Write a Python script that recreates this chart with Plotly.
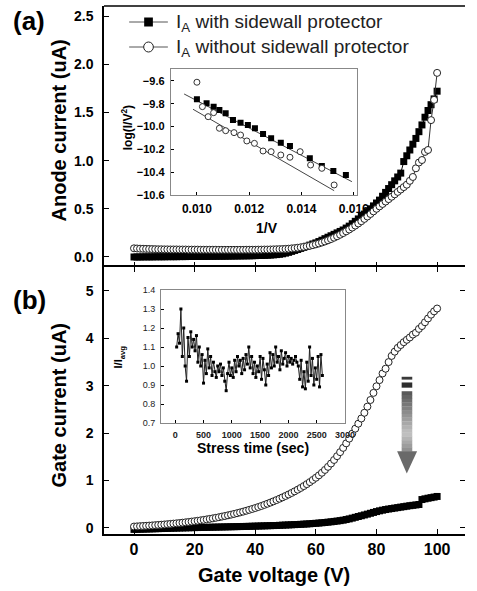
import plotly.graph_objects as go

# ---------------- data ----------------
gate_voltage = list(range(0, 101))  # V grid, 1 V step

anode_with = [
    0.000, 0.000, 0.000, 0.001, 0.001, 0.001, 0.001, 0.002, 0.002, 0.002,
    0.002, 0.003, 0.003, 0.003, 0.003, 0.004, 0.004, 0.004, 0.005, 0.005,
    0.005, 0.005, 0.006, 0.006, 0.006, 0.007, 0.007, 0.007, 0.008, 0.008,
    0.008, 0.009, 0.009, 0.010, 0.010, 0.011, 0.011, 0.012, 0.012, 0.013,
    0.014, 0.015, 0.016, 0.017, 0.018, 0.020, 0.022, 0.025, 0.028, 0.033,
    0.040, 0.048, 0.058, 0.068, 0.078, 0.089, 0.100, 0.111, 0.123, 0.135,
    0.146, 0.160, 0.174, 0.190, 0.205, 0.220, 0.235, 0.250, 0.265, 0.280,
    0.300, 0.320, 0.345, 0.370, 0.395, 0.420, 0.445, 0.470, 0.500, 0.530,
    0.560, 0.590, 0.630, 0.670, 0.710, 0.750, 0.790, 0.830, 0.870, 0.990,
    1.050, 1.110, 1.170, 1.230, 1.300, 1.370, 1.450, 1.520, 1.580, 1.640, 1.720,
]
anode_without = [
    0.090, 0.088, 0.086, 0.085, 0.084, 0.083, 0.082, 0.081, 0.080, 0.080,
    0.079, 0.079, 0.078, 0.078, 0.078, 0.077, 0.077, 0.077, 0.076, 0.076,
    0.076, 0.076, 0.075, 0.075, 0.075, 0.075, 0.075, 0.075, 0.074, 0.074,
    0.074, 0.074, 0.074, 0.074, 0.074, 0.074, 0.074, 0.075, 0.075, 0.075,
    0.075, 0.076, 0.076, 0.077, 0.077, 0.078, 0.079, 0.080, 0.081, 0.082,
    0.084, 0.086, 0.089, 0.092, 0.096, 0.100, 0.105, 0.110, 0.116, 0.123,
    0.131, 0.140, 0.150, 0.161, 0.173, 0.186, 0.200, 0.215, 0.231, 0.248,
    0.266, 0.285, 0.305, 0.326, 0.348, 0.371, 0.395, 0.420, 0.446, 0.473,
    0.500, 0.525, 0.550, 0.575, 0.600, 0.625, 0.650, 0.675, 0.700, 0.725,
    0.750, 0.790, 0.830, 0.920, 0.980, 1.006, 1.090, 1.110, 1.420, 1.630, 1.910,
]
gate_without = [
    0.030, 0.034, 0.038, 0.042, 0.046, 0.050, 0.054, 0.059, 0.064, 0.069,
    0.074, 0.080, 0.086, 0.092, 0.098, 0.105, 0.112, 0.119, 0.127, 0.135,
    0.143, 0.152, 0.161, 0.171, 0.181, 0.192, 0.203, 0.215, 0.227, 0.240,
    0.253, 0.267, 0.281, 0.296, 0.312, 0.328, 0.345, 0.363, 0.382, 0.401,
    0.421, 0.442, 0.464, 0.487, 0.511, 0.536, 0.562, 0.589, 0.617, 0.646,
    0.676, 0.707, 0.739, 0.773, 0.808, 0.845, 0.884, 0.925, 0.968, 1.013,
    1.060, 1.110, 1.165, 1.225, 1.290, 1.360, 1.435, 1.515, 1.600, 1.690,
    1.785, 1.885, 1.990, 2.095, 2.200, 2.310, 2.430, 2.560, 2.700, 2.850,
    2.990, 3.120, 3.260, 3.360, 3.500, 3.630, 3.720, 3.800, 3.860, 3.920,
    3.970, 4.020, 4.080, 4.120, 4.200, 4.260, 4.340, 4.420, 4.500, 4.570, 4.630,
]
gate_with = [
    -0.030, -0.028, -0.026, -0.024, -0.022, -0.020, -0.018, -0.016, -0.014, -0.012,
    -0.010, -0.008, -0.006, -0.004, -0.002, 0.000, 0.002, 0.003, 0.005, 0.006,
    0.008, 0.009, 0.011, 0.012, 0.014, 0.015, 0.017, 0.018, 0.020, 0.021,
    0.023, 0.024, 0.026, 0.027, 0.029, 0.030, 0.032, 0.033, 0.035, 0.037,
    0.039, 0.041, 0.043, 0.045, 0.047, 0.049, 0.051, 0.053, 0.056, 0.059,
    0.062, 0.065, 0.068, 0.071, 0.074, 0.077, 0.081, 0.085, 0.089, 0.094,
    0.099, 0.104, 0.110, 0.116, 0.123, 0.130, 0.138, 0.146, 0.155, 0.165,
    0.178, 0.192, 0.208, 0.225, 0.242, 0.258, 0.275, 0.292, 0.310, 0.328,
    0.346, 0.362, 0.376, 0.389, 0.400, 0.410, 0.420, 0.430, 0.440, 0.450,
    0.460, 0.470, 0.478, 0.486, 0.495, 0.600, 0.615, 0.628, 0.640, 0.652, 0.665,
]

# inset (a): Fowler-Nordheim plot
fn_x_with = [0.01000, 0.01037, 0.01064, 0.01086, 0.01110, 0.01138, 0.01167, 0.01195,
             0.01222, 0.01253, 0.01284, 0.01321, 0.01356, 0.01432, 0.01478, 0.01522, 0.01570]
fn_y_with = [-9.760, -9.796, -9.825, -9.854, -9.883, -9.942, -9.966, -9.986,
             -10.015, -10.065, -10.103, -10.141, -10.170, -10.278, -10.346, -10.389, -10.425]
fn_x_without = [0.01000, 0.01021, 0.01043, 0.01064, 0.01086, 0.01110, 0.01142, 0.01167, 0.01191,
                0.01220, 0.01253, 0.01284, 0.01321, 0.01356, 0.01395, 0.01435, 0.01478, 0.01525]
fn_y_without = [-9.611, -9.825, -9.913, -9.878, -10.015, -10.036, -10.053, -10.074, -10.126,
                -10.147, -10.214, -10.220, -10.249, -10.269, -10.220, -10.337, -10.366, -10.512]
fit_x_with = [0.00951, 0.01593]
fit_y_with = [-9.714, -10.483]
fit_x_without = [0.00985, 0.01525]
fit_y_without = [-9.848, -10.562]

# inset (b): normalised gate current vs stress time
stress_time = list(range(25, 2601, 25))
norm_current = [
    1.10, 1.17, 1.12, 1.30, 1.05, 1.20, 1.00, 0.92, 1.15, 1.05,
    1.18, 1.10, 1.14, 1.08, 1.16, 1.02, 1.10, 1.00, 1.06, 0.91,
    1.03, 0.96, 1.09, 0.99, 1.05, 0.95, 1.02, 0.97, 0.94, 1.00,
    0.97, 1.01, 0.95, 0.99, 0.92, 0.87, 0.96, 1.02, 0.95, 0.99,
    0.94, 1.03, 0.97, 1.05, 1.00, 1.03, 0.96, 1.04, 0.98, 1.06,
    1.01, 1.10, 0.99, 1.05, 0.96, 1.02, 0.94, 1.00, 0.97, 1.05,
    0.93, 1.04, 0.98, 0.90, 1.01, 0.95, 1.07, 0.99, 1.06, 1.00,
    1.10, 1.02, 1.05, 0.98, 1.08, 1.01, 1.04, 1.07, 1.00, 1.05,
    1.02, 1.04, 1.01, 1.03, 1.05, 1.02, 1.00, 0.93, 1.03, 0.89,
    0.97, 0.88, 1.02, 0.92, 1.10, 0.95, 1.04, 0.90, 0.99, 0.93,
    1.05, 0.89, 1.06, 0.95,
]

legend_labels = ["I<sub>A</sub> with sidewall protector",
                 "I<sub>A</sub> without sidewall protector"]

main_x_ticks = [0, 20, 40, 60, 80, 100]
anode_ticks = [0.0, 0.5, 1.0, 1.5, 2.0, 2.5]
gate_ticks = [0, 1, 2, 3, 4, 5]
fn_x_ticks = [0.010, 0.012, 0.014, 0.016]
fn_y_ticks = [-10.6, -10.4, -10.2, -10.0, -9.8, -9.6]
stress_ticks = [0, 500, 1000, 1500, 2000, 2500, 3000]
norm_ticks = [0.7, 0.8, 0.9, 1.0, 1.1, 1.2, 1.3, 1.4]

# ---------------- figure ----------------
FONT = "Liberation Sans, Arial, sans-serif"
BOLD = dict(family=FONT, color="black", weight="bold")

W, H = 477, 591
ML, MR, MT, MB = 104, 0, 6, 57
PW, PH = W - ML - MR, H - MT - MB


def PX(px):
    return (px - ML) / PW


def PY(py):
    return (H - MB - py) / PH


fig = go.Figure()

# panel (a)
fig.add_trace(go.Scatter(
    x=gate_voltage, y=anode_with, xaxis="x2", yaxis="y2", showlegend=False,
    mode="lines+markers", name=legend_labels[0],
    line=dict(color="black", width=1),
    marker=dict(symbol="square", size=7, color="black", line=dict(width=0)),
))
fig.add_trace(go.Scatter(
    x=gate_voltage, y=anode_without, xaxis="x2", yaxis="y2", showlegend=False,
    mode="lines+markers", name=legend_labels[1],
    line=dict(color="#333", width=1),
    marker=dict(symbol="circle", size=7, color="white", line=dict(color="#222", width=1)),
))
# panel (b)
fig.add_trace(go.Scatter(
    x=gate_voltage, y=gate_with, xaxis="x", yaxis="y", showlegend=False,
    mode="lines+markers", line=dict(color="black", width=1),
    marker=dict(symbol="square", size=7, color="black", line=dict(width=0)),
))
fig.add_trace(go.Scatter(
    x=gate_voltage, y=gate_without, xaxis="x", yaxis="y", showlegend=False,
    mode="lines+markers", line=dict(color="#333", width=1),
    marker=dict(symbol="circle", size=7, color="white", line=dict(color="#222", width=1)),
))
# invisible trace to carry the right-hand mirror ticks of panel (b)
fig.add_trace(go.Scatter(
    x=gate_voltage, y=gate_without, xaxis="x", yaxis="y5", showlegend=False,
    mode="markers", marker=dict(opacity=0), hoverinfo="skip",
))

# inset (a)
fig.add_trace(go.Scatter(
    x=fit_x_with, y=fit_y_with, xaxis="x3", yaxis="y3", showlegend=False,
    mode="lines", line=dict(color="#444", width=1),
))
fig.add_trace(go.Scatter(
    x=fit_x_without, y=fit_y_without, xaxis="x3", yaxis="y3", showlegend=False,
    mode="lines", line=dict(color="#444", width=1),
))
fig.add_trace(go.Scatter(
    x=fn_x_with, y=fn_y_with, xaxis="x3", yaxis="y3", showlegend=False,
    mode="markers", marker=dict(symbol="square", size=6, color="black"),
))
fig.add_trace(go.Scatter(
    x=fn_x_without, y=fn_y_without, xaxis="x3", yaxis="y3", showlegend=False,
    mode="markers", marker=dict(symbol="circle", size=6, color="white", line=dict(color="#333", width=1)),
))

# inset (b)
fig.add_trace(go.Scatter(
    x=stress_time, y=norm_current, xaxis="x4", yaxis="y4", showlegend=False,
    mode="lines+markers", line=dict(color="#222", width=1),
    marker=dict(symbol="square", size=3, color="black"),
))

# ---------------- shapes: frame, arrow, legend keys ----------------
shapes = []

# top border of panel (a)
shapes.append(dict(type="line", xref="paper", yref="paper", x0=0, x1=1, y0=1, y1=1,
                   line=dict(color="black", width=1.5), layer="above"))


def rect(y0, y1, x0, x1, color):
    shapes.append(dict(type="rect", xref="x", yref="y", x0=x0, x1=x1, y0=y0, y1=y1,
                       fillcolor=color, line=dict(width=0), layer="above"))


rect(3.13, 3.19, 88.3, 91.8, "#3a3a3a")
rect(2.96, 3.07, 88.3, 91.8, "#2e2e2e")
n_seg = 16
top, bot = 2.88, 1.61
for i in range(n_seg):
    t = (i + 0.5) / n_seg
    if t < 0.7:
        g = int(85 + (195 - 85) * t / 0.7)
    else:
        g = int(195 - (195 - 140) * (t - 0.7) / 0.3)
    y0 = top - (top - bot) * i / n_seg
    y1 = top - (top - bot) * (i + 1) / n_seg
    rect(y1, y0 + 0.005, 88.3, 91.8, f"rgb({g},{g},{g})")
shapes.append(dict(type="path", xref="x", yref="y",
                   path="M 86.8 1.62 L 93.4 1.62 L 90.0 1.15 Z",
                   fillcolor="#6a6a6a", line=dict(width=0), layer="above"))

# legend keys (pixel positions converted to paper)
for row_y in (22, 47):
    shapes.append(dict(type="line", xref="paper", yref="paper",
                       x0=PX(130), x1=PX(170), y0=PY(row_y), y1=PY(row_y),
                       line=dict(color="#555", width=1), layer="above"))
shapes.append(dict(type="rect", xref="paper", yref="paper",
                   x0=PX(145.5), x1=PX(154.5), y0=PY(26.5), y1=PY(17.5),
                   fillcolor="black", line=dict(width=0), layer="above"))
shapes.append(dict(type="circle", xref="paper", yref="paper",
                   x0=PX(145), x1=PX(155), y0=PY(52), y1=PY(42),
                   fillcolor="white", line=dict(color="#222", width=1), layer="above"))

# ---------------- annotations ----------------
ann = []


def text(x, y, s, size, angle=0, weight="bold", xanchor="center", color="black"):
    ann.append(dict(xref="paper", yref="paper", x=x, y=y, text=s, showarrow=False,
                    textangle=angle, xanchor=xanchor, yanchor="middle",
                    font=dict(family=FONT, size=size, color=color, weight=weight)))


text(PX(27), PY(21), "(a)", 26)
text(PX(27), PY(300), "(b)", 26)
text(PX(58), PY(130), "Anode current (uA)", 20, -90)
text(PX(58), PY(405), "Gate current (uA)", 20, -90)
text(PX(280), PY(575), "Gate voltage (V)", 20)
text(PX(272), PY(228), "1/V", 14)
text(PX(128), PY(128), "log(I/V<sup>2</sup>)", 12, -90)
text(PX(258), PY(448), "Stress time (sec)", 14)
text(PX(120), PY(357), "I/I<sub>avg</sub>", 11, -90)
text(PX(176), PY(23), legend_labels[0], 19, weight="normal", xanchor="left", color="#222")
text(PX(176), PY(48), legend_labels[1], 19, weight="normal", xanchor="left", color="#222")

SPLIT = PY(267)


def ax(linecolor="black", linewidth=1.5, **kw):
    d = dict(showgrid=False, zeroline=False, showline=True, linecolor=linecolor,
             linewidth=linewidth, ticks="inside", tickcolor="black")
    d.update(kw)
    return d


fig.update_layout(
    width=W, height=H,
    margin=dict(l=ML, r=MR, t=MT, b=MB),
    paper_bgcolor="white", plot_bgcolor="white",
    font=dict(family=FONT, color="black"),
    showlegend=False,
    xaxis=ax(domain=[0, 1], anchor="y", range=[-9.9, 109.2],
             tickvals=main_x_ticks, ticklen=5, mirror="ticks",
             tickfont=dict(**BOLD, size=16), ticklabelstandoff=0),
    yaxis=ax(domain=[0, SPLIT], anchor="x", range=[-0.127, 5.506],
             tickvals=gate_ticks, ticklen=5,
             tickfont=dict(**BOLD, size=14), ticklabelstandoff=6),
    yaxis5=dict(overlaying="y", side="right", anchor="x", range=[-0.127, 5.506],
                tickvals=gate_ticks, ticks="inside", ticklen=5, tickcolor="black",
                showticklabels=False, showline=False, showgrid=False, zeroline=False),
    xaxis2=dict(domain=[0, 1], anchor="y2", range=[-9.9, 109.2], showline=False,
                showgrid=False, zeroline=False, tickvals=main_x_ticks, ticks="inside",
                ticklen=5, tickcolor="black", showticklabels=False),
    yaxis2=ax(domain=[SPLIT, 1], anchor="x2", range=[-0.104, 2.604],
              tickvals=anode_ticks, tickformat=".1f", ticklen=5,
              tickfont=dict(**BOLD, size=14), ticklabelstandoff=6),
    xaxis3=ax(linecolor="#888", linewidth=1, domain=[PX(173), PX(365)], anchor="y3",
              range=[0.009, 0.01611], tickvals=fn_x_ticks, tickformat=".3f",
              ticklen=3, mirror=True,
              tickfont=dict(**BOLD, size=12), ticklabelstandoff=3),
    yaxis3=ax(linecolor="#888", linewidth=1, domain=[PY(195), PY(69)], anchor="x3",
              range=[-10.6, -9.495], tickvals=fn_y_ticks, tickformat=".1f",
              ticklen=3, mirror=True,
              tickfont=dict(**BOLD, size=11), ticklabelstandoff=3),
    xaxis4=ax(linecolor="#888", linewidth=1, domain=[PX(163), PX(353)], anchor="y4",
              range=[-250, 3000], tickvals=stress_ticks, ticklen=3, mirror=True,
              tickfont=dict(family=FONT, size=9, color="#222", weight="bold"),
              ticklabelstandoff=3),
    yaxis4=ax(linecolor="#888", linewidth=1, domain=[PY(423), PY(290)], anchor="x4",
              range=[0.7, 1.4], tickvals=norm_ticks, tickformat=".1f",
              ticklen=3, mirror=True,
              tickfont=dict(family=FONT, size=9, color="#222"), ticklabelstandoff=3),
    shapes=shapes,
    annotations=ann,
)

fig.write_html("out.html", config={"displayModeBar": False},
               post_script="document.body.style.margin='0';document.body.style.padding='0';")
